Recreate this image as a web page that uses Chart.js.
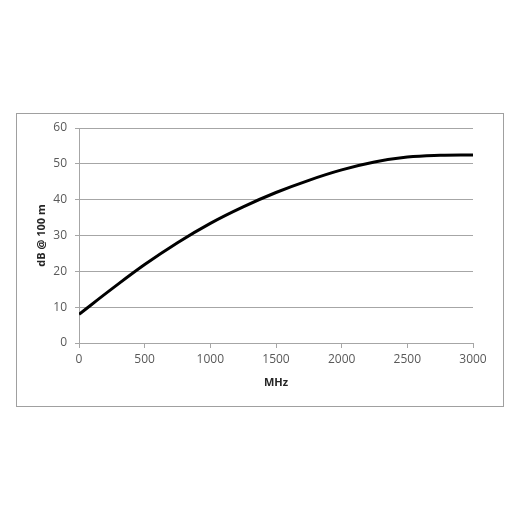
<!DOCTYPE html>
<html>
<head>
<meta charset="utf-8">
<script src="https://cdn.jsdelivr.net/npm/chart.js@4/dist/chart.umd.min.js"></script>
<style>
  html, body { margin: 0; padding: 0; background: #ffffff; }
  #wrap { position: relative; width: 520px; height: 520px; }
  canvas { display: block; }
</style>
</head>
<body>
<div id="wrap"><canvas id="c" width="520" height="520"></canvas></div>
<script>
// Data
const frequenciesMHz = [0, 250, 500, 750, 1000, 1250, 1500, 1750, 2000, 2250, 2500, 2750, 3000];
const attenuationDb100m = [8.0, 15.1, 21.9, 28.0, 33.4, 38.0, 42.0, 45.4, 48.3, 50.5, 51.9, 52.4, 52.5];
const xTicks = [0, 500, 1000, 1500, 2000, 2500, 3000];
const yTicks = [0, 10, 20, 30, 40, 50, 60];
const xTitle = 'MHz';
const yTitle = 'dB @ 100 m';

const points = frequenciesMHz.map((f, i) => ({ x: f, y: attenuationDb100m[i] }));

const gridColor = '#a6a6a6';
const textColor = '#595959';

const frame = {
  id: 'frame',
  beforeDraw(chart) {
    const ctx = chart.ctx;
    ctx.save();
    ctx.fillStyle = '#ffffff';
    ctx.fillRect(0, 0, chart.width, chart.height);
    ctx.strokeStyle = '#a0a0a0';
    ctx.lineWidth = 1;
    ctx.strokeRect(16.5, 113.5, 487, 293);
    ctx.restore();
  }
};

new Chart(document.getElementById('c'), {
  type: 'line',
  data: {
    datasets: [{
      data: points,
      borderColor: '#000000',
      borderWidth: 3,
      pointRadius: 0,
      fill: false,
      tension: 0.4
    }]
  },
  options: {
    responsive: false,
    animation: false,
    layout: { padding: { left: 17, top: 128, right: 47, bottom: 115 } },
    plugins: { legend: { display: false }, tooltip: { enabled: false } },
    scales: {
      x: {
        type: 'linear',
        min: 0, max: 3000,
        afterFit(s) { s.height = 62; },
        afterBuildTicks(s) { s.ticks = xTicks.map(v => ({ value: v })); },
        grid: { drawOnChartArea: false, drawTicks: true, tickLength: 5, color: gridColor, lineWidth: 1 },
        border: { display: true, color: gridColor, width: 1 },
        ticks: { color: textColor, padding: 4, maxRotation: 0, font: { family: 'Open Sans', size: 12 },
                 callback: v => String(v) },
        title: { display: true, text: xTitle, color: '#262626', padding: { top: 0, bottom: 16 }, font: { family: 'Open Sans', size: 11, weight: 'bold' } }
      },
      y: {
        min: 0, max: 60,
        afterFit(s) { s.width = 62; },
        afterBuildTicks(s) { s.ticks = yTicks.map(v => ({ value: v })); },
        grid: { drawOnChartArea: true, drawTicks: true, tickLength: 4, color: gridColor, lineWidth: 1 },
        border: { display: true, color: gridColor, width: 1 },
        ticks: { color: textColor, padding: 8, font: { family: 'Open Sans', size: 12 },
                 callback: v => String(v) },
        title: { display: true, text: yTitle, color: '#262626', padding: { top: 18, bottom: 0 }, font: { family: 'Open Sans', size: 11, weight: 'bold' } }
      }
    }
  },
  plugins: [frame]
});
</script>
</body>
</html>
